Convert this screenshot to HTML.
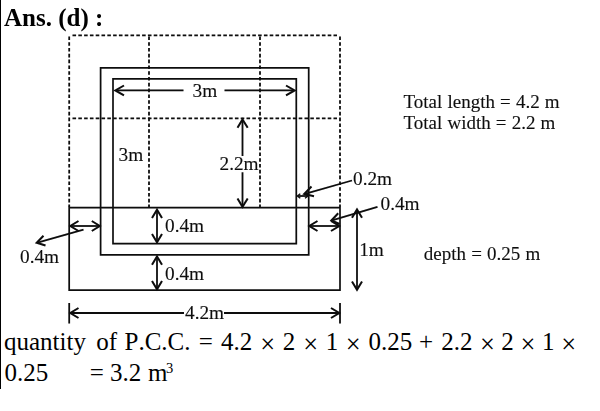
<!DOCTYPE html>
<html>
<head>
<meta charset="utf-8">
<title>Ans. (d)</title>
<style>
html,body{margin:0;padding:0;background:#fff;}
body{width:600px;height:411px;position:relative;overflow:hidden;font-family:"Liberation Serif",serif;color:#000;}
#bar{position:absolute;left:0;top:0;width:1.3px;height:389px;background:#000;}
.t{position:absolute;white-space:nowrap;line-height:1;margin:0;font-kerning:none;}
#h{left:4px;top:5px;font-size:25px;font-weight:bold;opacity:0.999;}
#l1{left:5px;top:329px;font-size:25px;word-spacing:1.6px;}
#l2{left:5px;top:360px;font-size:25px;}
#l2 sup{font-size:14.5px;vertical-align:baseline;position:relative;top:-8px;}
.w{position:relative;}
.x{display:inline-block;width:14.1px;text-align:center;}
.x{font-size:26.4px;line-height:0;top:3.2px;text-indent:-0.4px;}
svg{position:absolute;left:0;top:0;}
svg text{font-kerning:normal;font-family:"Liberation Serif",serif;font-size:19px;word-spacing:0.4px;fill:#111;}
svg text.lb{font-size:19.3px;}
</style>
</head>
<body>
<div id="bar"></div>
<div class="t" id="h">Ans. (d) :</div>
<svg width="600" height="411" viewBox="0 0 600 411">
<defs><filter id="soft" x="0" y="0" width="600" height="411" filterUnits="userSpaceOnUse"><feGaussianBlur stdDeviation="0.3"/></filter></defs>
<g filter="url(#soft)">
<g fill="none" stroke="#0a0a0a" stroke-width="1.7">
  <!-- dashed grid -->
  <g stroke-dasharray="3.6 2.2" stroke-width="1.8">
    <path d="M72.5 35.3H337"/>
    <path d="M72.5 118.3H337"/>
    <path d="M69.2 36.4V207"/>
    <path d="M149 36.4V207"/>
    <path d="M260 36.4V207"/>
    <path d="M340 36.4V207"/>
  </g>
  <!-- walls -->
  <path d="M100.6 67.8H308.7V254.8H100.6Z"/>
  <path d="M113 78.9H296.3V243.6H113Z"/>
  <!-- big rect -->
  <path d="M69.2 207.7H340V290.2H69.2Z"/>
  <!-- dimension lines -->
  <g stroke-width="1.8">
  <path d="M116 90.4H183.5M224.5 90.4H294"/>
  <path d="M242.5 120V156M242.5 172.2V206.5"/>
  <path d="M157 210.5V242M157 257V289"/>
  <path d="M71 226H99.5"/>
  <path d="M83.5 229.7L37.5 242.6"/>
  <path d="M310 226H339"/>
  <path d="M332 220.3L377.5 206.8"/>
  <path d="M298 196H307"/>
  <path d="M305 193.8L352 180.5"/>
  <path d="M357 210V289.5"/>
  <path d="M69.2 303V323.5M340 303V323.5"/>
  <path d="M71 313H184M224 313H339"/>
  </g>
  <!-- arrow heads -->
  <g stroke-width="2">
  <path d="M124 85.5L115.3 90.4L124 95.3M286 85.5L294.7 90.4L286 95.3"/>
  <path d="M237.5 127.8L242.5 119.5L247.7 127.8M237.5 198.5L242.5 206.8L247.7 198.5"/>
  <path d="M152 218L157 209.7L162 218M152 234L157 242.3L162 234"/>
  <path d="M152 264.7L157 256.4L162 264.7M152 281L157 289.3L162 281"/>
  <path d="M78.5 221L70.3 226L78.5 231M91.8 221L99.8 226L91.8 231"/>
  <path d="M43.5 235.8L36.7 242.8L45.5 245.5"/>
  <path d="M317.5 221L309.3 226L317.5 231M331 221L339.3 226L331 231"/>
  <path d="M338.2 213.3L331.4 220.5L339.5 224"/>
  <path d="M300.3 193.8L297.3 196L300.3 198.2M305 193.8L308 196L305 198.2" stroke-width="1.4"/>
  <path d="M311.5 186.5L304.2 194L314 196.3"/>
  <path d="M352 217.8L357 209.5L362 217.8M352 281.5L357 289.8L362 281.5"/>
  <path d="M78.5 308L70.3 313L78.5 318M331 308L339.3 313L331 318"/>
  </g>
</g>
<g stroke="#111" stroke-width="0.12">
<text class="lb" x="192.5" y="97">3m</text>
<text class="lb" x="118.5" y="161">3m</text>
<text class="lb" x="219.5" y="170">2.2m</text>
<text class="lb" x="165" y="232">0.4m</text>
<text class="lb" x="165" y="279.5">0.4m</text>
<text class="lb" x="20" y="263">0.4m</text>
<text class="lb" x="353" y="185">0.2m</text>
<text class="lb" x="380.5" y="210">0.4m</text>
<text class="lb" x="359.2" y="256.3">1m</text>
<text class="lb" x="185" y="318.5">4.2m</text>
<text x="403.5" y="108.2">Total length = 4.2 m</text>
<text x="403.5" y="129.3">Total width = 2.2 m</text>
<text x="423.8" y="260">depth = 0.25 m</text>
</g>
</g>
</svg>
<div class="t" id="l1"><span class="w" style="left:-1.0px">quantity</span> <span class="w" style="left:1.5px">of</span> <span class="w" style="left:1.0px">P.C.C.</span> <span class="w" style="left:1.4px">=</span> <span class="w" style="left:1.6px">4.2</span> <span class="w x" style="left:2.2px">×</span> <span class="w" style="left:2.4px">2</span> <span class="w x" style="left:3.0px">×</span> <span class="w" style="left:3.0px">1</span> <span class="w x" style="left:3.2px">×</span> <span class="w" style="left:3.4px">0.25</span> <span class="w" style="left:2.4px">+</span> <span class="w" style="left:2.6px">2.2</span> <span class="w x" style="left:2.7px">×</span> <span class="w" style="left:1.6px">2</span> <span class="w x" style="left:0.9px">×</span> <span class="w" style="left:0.0px">1</span> <span class="w x" style="left:-0.6px">×</span></div>
<div class="t" id="l2"><span class="w" style="left:-0.5px">0.25</span><span style="display:inline-block;width:40px"></span><span class="w" style="left:1px">= 3.2 </span><span class="w" style="left:1.5px">m</span><sup>3</sup></div>
</body>
</html>
